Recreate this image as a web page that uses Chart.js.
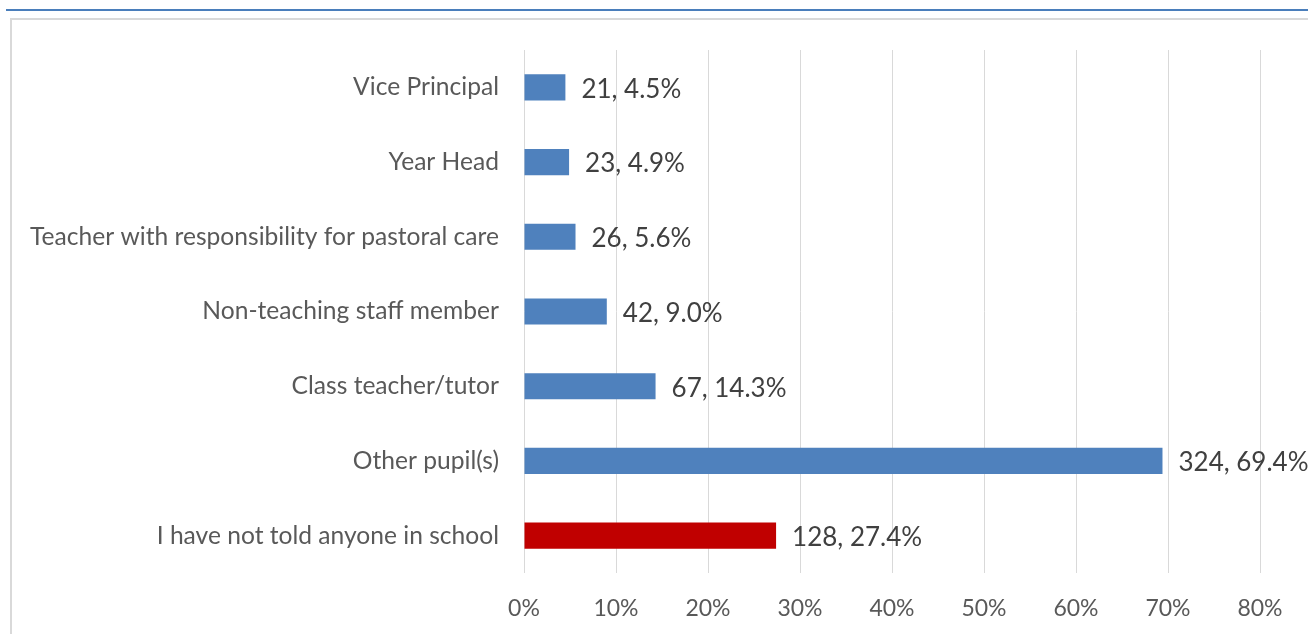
<!DOCTYPE html>
<html>
<head>
<meta charset="utf-8">
<script src="https://cdn.jsdelivr.net/npm/chart.js@4"></script>
<style>
  html, body { margin: 0; padding: 0; background: #fff; }
  #wrap { position: relative; width: 1308px; height: 634px; overflow: hidden; }
  #topline { position: absolute; left: 6px; top: 9px; width: 1302px; height: 2px; background: #4a7ebb; }
  #frame { position: absolute; left: 10px; top: 18px; width: 1310px; height: 640px;
           border-left: 2px solid #d9d9d9; border-top: 2px solid #d9d9d9; }
  canvas { position: absolute; left: 0; top: 0; }
</style>
</head>
<body>
<div id="wrap">
  <div id="topline"></div>
  <div id="frame"></div>
  <canvas id="chart" width="1308" height="634"></canvas>
</div>
<script>
// categories top to bottom, as shown
const categories = [
  'Vice Principal',
  'Year Head',
  'Teacher with responsibility for pastoral care',
  'Non-teaching staff member',
  'Class teacher/tutor',
  'Other pupil(s)',
  'I have not told anyone in school'
];
const counts = [21, 23, 26, 42, 67, 324, 128];
const percents = [4.5, 4.9, 5.6, 9.0, 14.3, 69.4, 27.4];
const xTicks = [0, 10, 20, 30, 40, 50, 60, 70, 80];

const FONT = 'Lato, "Liberation Sans", sans-serif';
const highlight = categories.length - 1; // the "not told anyone" bar is red

// draws "count, pct%" just past the end of each bar
const barLabels = {
  id: 'barLabels',
  afterDatasetsDraw(chart) {
    const c = chart.ctx;
    const meta = chart.getDatasetMeta(0);
    c.save();
    c.font = '26px ' + FONT;
    c.fillStyle = '#404040';
    c.textBaseline = 'middle';
    c.textAlign = 'left';
    meta.data.forEach((bar, i) => {
      c.fillText(counts[i] + ', ' + percents[i].toFixed(1) + '%', bar.x + 16, bar.y + 2);
    });
    c.restore();
  }
};

new Chart(document.getElementById('chart'), {
  type: 'bar',
  data: {
    labels: categories,
    datasets: [{
      data: percents,
      backgroundColor: ctx => ctx.dataIndex === highlight ? '#c00000' : '#4f81bd',
      barPercentage: 0.35,
      categoryPercentage: 1
    }]
  },
  options: {
    indexAxis: 'y',
    responsive: false,
    animation: false,
    layout: { padding: { top: 50, right: 48, left: 0, bottom: 0 } },
    plugins: {
      legend: { display: false },
      tooltip: { enabled: false }
    },
    scales: {
      x: {
        min: 0,
        max: 80,
        afterBuildTicks: scale => { scale.ticks = xTicks.map(v => ({ value: v })); },
        afterFit: scale => { scale.height = 61; },
        grid: { color: '#d9d9d9', lineWidth: 1, drawTicks: false },
        border: { display: false },
        ticks: {
          padding: 22,
          color: '#595959',
          font: { family: FONT, size: 23 },
          callback: v => v + '%'
        }
      },
      y: {
        afterFit: scale => { scale.width = 524; },
        grid: { display: false, drawTicks: false },
        border: { display: false },
        ticks: {
          padding: 25,
          color: '#595959',
          font: { family: FONT, size: 24.6 }
        }
      }
    }
  },
  plugins: [barLabels]
});
</script>
</body>
</html>
